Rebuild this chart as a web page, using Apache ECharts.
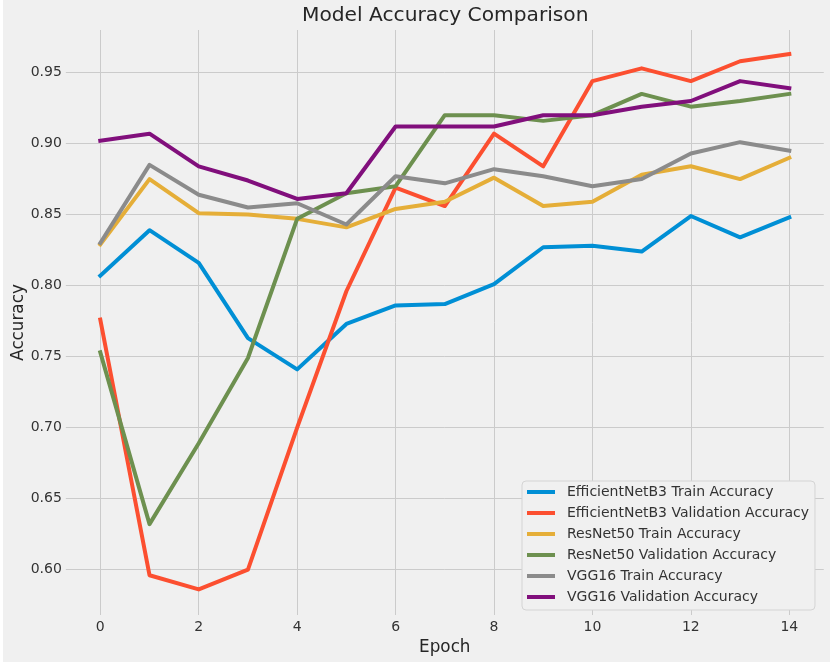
<!DOCTYPE html>
<html>
<head>
<meta charset="utf-8">
<script src="https://cdn.jsdelivr.net/npm/echarts@6/dist/echarts.min.js"></script>
<style>
  html, body { margin: 0; padding: 0; background: #ffffff; }
  #chart { position: absolute; left: 3px; top: 0; width: 827px; height: 662px; background: #f0f0f0; }
</style>
</head>
<body>
<div id="chart"></div>
<script>
// epochs and accuracy curves
var epochs = [0, 1, 2, 3, 4, 5, 6, 7, 8, 9, 10, 11, 12, 13, 14];
var effTrain = [0.807, 0.839, 0.816, 0.763, 0.741, 0.773, 0.786, 0.787, 0.801, 0.827, 0.828, 0.824, 0.849, 0.834, 0.848];
var effVal   = [0.776, 0.596, 0.586, 0.600, 0.700, 0.796, 0.869, 0.856, 0.907, 0.884, 0.944, 0.953, 0.944, 0.958, 0.963];
var resTrain = [0.829, 0.875, 0.851, 0.850, 0.847, 0.841, 0.854, 0.859, 0.876, 0.856, 0.859, 0.878, 0.884, 0.875, 0.890];
var resVal   = [0.753, 0.632, 0.689, 0.749, 0.847, 0.865, 0.870, 0.920, 0.920, 0.916, 0.920, 0.935, 0.926, 0.930, 0.935];
var vggTrain = [0.830, 0.885, 0.864, 0.855, 0.858, 0.843, 0.877, 0.872, 0.882, 0.877, 0.870, 0.875, 0.893, 0.901, 0.895];
var vggVal   = [0.902, 0.907, 0.884, 0.874, 0.861, 0.865, 0.912, 0.912, 0.912, 0.920, 0.920, 0.926, 0.930, 0.944, 0.939];

var xTicks = [0, 2, 4, 6, 8, 10, 12, 14];
var yTicks = [0.60, 0.65, 0.70, 0.75, 0.80, 0.85, 0.90, 0.95];

var names = [
  'EfficientNetB3 Train Accuracy',
  'EfficientNetB3 Validation Accuracy',
  'ResNet50 Train Accuracy',
  'ResNet50 Validation Accuracy',
  'VGG16 Train Accuracy',
  'VGG16 Validation Accuracy'
];
var values = [effTrain, effVal, resTrain, resVal, vggTrain, vggVal];
var colors = ['#008fd5', '#fc4f30', '#e5ae38', '#6d904f', '#8b8b8b', '#810f7c'];

var font = 'DejaVu Sans';
var chart = echarts.init(document.getElementById('chart'));

var series = names.map(function (n, k) {
  return {
    name: n,
    type: 'line',
    data: epochs.map(function (e, i) { return [e, values[k][i]]; }),
    symbol: 'none',
    lineStyle: { width: 4, color: colors[k], join: 'round', cap: 'square' },
    itemStyle: { color: colors[k] },
    animation: false
  };
});

chart.setOption({
  backgroundColor: '#f0f0f0',
  color: colors,
  title: {
    text: 'Model Accuracy Comparison',
    left: 299, top: 6, padding: 0,
    textStyle: { fontFamily: font, fontSize: 20.2, fontWeight: 'normal', color: '#262626' }
  },
  grid: { left: 62.85, right: 6.25, top: 30, bottom: 47, containLabel: false, outerBoundsMode: 'none' },
  xAxis: {
    type: 'value',
    min: -0.7, max: 14.7,
    name: 'Epoch', nameLocation: 'middle', nameGap: 24, nameMoveOverlap: false,
    nameTextStyle: { fontFamily: font, fontSize: 16.8, color: '#262626' },
    axisLine: { show: false },
    axisTick: { show: false, customValues: xTicks },
    axisLabel: {
      customValues: xTicks, margin: 5,
      fontFamily: font, fontSize: 14, color: '#333333'
    },
    splitLine: { show: true, lineStyle: { color: '#cbcbcb', width: 1 } }
  },
  yAxis: {
    type: 'value',
    min: 0.568, max: 0.980,
    name: 'Accuracy', nameLocation: 'middle', nameGap: 39, nameRotate: 90, nameMoveOverlap: false,
    nameTextStyle: { fontFamily: font, fontSize: 16.8, color: '#262626' },
    axisLine: { show: false },
    axisTick: { show: false, customValues: yTicks },
    axisLabel: {
      customValues: yTicks, margin: 4,
      fontFamily: font, fontSize: 14, color: '#333333',
      formatter: function (v) { return v.toFixed(2); }
    },
    splitLine: { show: true, lineStyle: { color: '#cbcbcb', width: 1 } }
  },
  legend: {
    orient: 'vertical',
    left: 519, top: 481,
    padding: [4, 6, 6, 5],
    itemWidth: 28, itemHeight: 4, itemGap: 7,
    icon: 'rect',
    backgroundColor: '#f0f0f0',
    borderColor: '#d4d4d4', borderWidth: 1, borderRadius: 4,
    textStyle: { fontFamily: font, fontSize: 14, color: '#333333', padding: [0, 0, 0, 7] },
    data: names
  },
  series: series
});
</script>
</body>
</html>
